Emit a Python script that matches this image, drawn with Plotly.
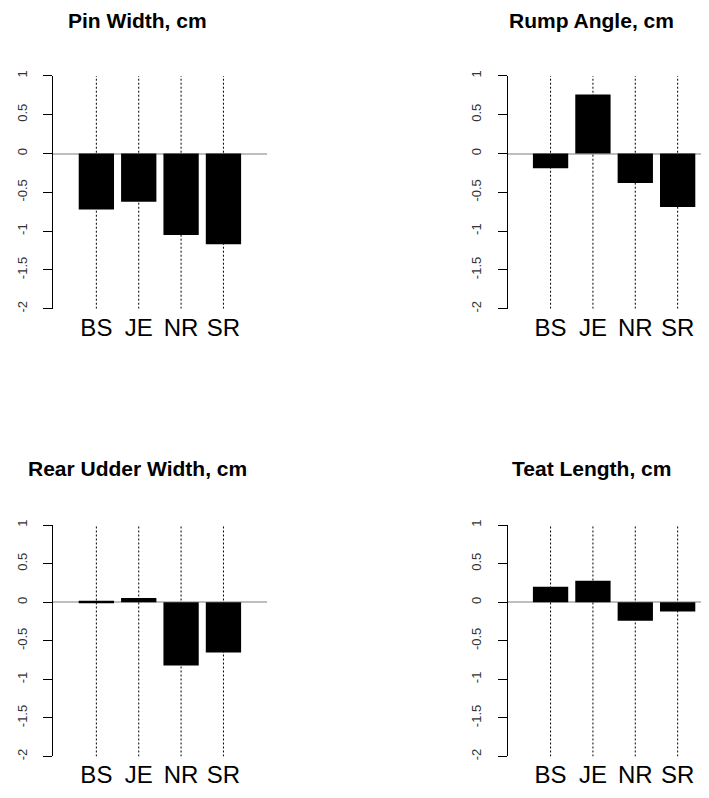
import plotly.graph_objects as go

# ---- data ----
categories = ["BS", "JE", "NR", "SR"]
titles = ["Pin Width, cm", "Rump Angle, cm", "Rear Udder Width, cm", "Teat Length, cm"]
pin_width = [-0.72, -0.62, -1.05, -1.17]
rump_angle = [-0.19, 0.76, -0.38, -0.69]
rear_udder_width = [0.02, 0.055, -0.82, -0.65]
teat_length = [0.20, 0.28, -0.24, -0.12]
series = [pin_width, rump_angle, rear_udder_width, teat_length]
y_tick_vals = [-2, -1.5, -1, -0.5, 0, 0.5, 1]
y_tick_text = ["-2", "-1.5", "-1", "-0.5", "0", "0.5", "1"]

# R barplot positions (width 1, space 0.2)
bar_pos = [0.7 + 1.2 * i for i in range(len(categories))]

# page body has an 8px default margin; figure sized to fill the rest of the window
OFF = 8
W, H = 709 - OFF, 798 - OFF
FONT = "Liberation Sans, Arial, sans-serif"
px_per_unit = 35.3
x_left_val = -0.52

# panel pixel geometry in window coordinates (layout only)
panels = [
    dict(axis_px=53.3, right_px=266.7, top_px=70.7, bot_px=306.5, title_x=137.5, title_y=15),
    dict(axis_px=507.5, right_px=709.0, top_px=70.7, bot_px=306.5, title_x=591.5, title_y=15),
    dict(axis_px=53.3, right_px=266.7, top_px=525.7, bot_px=760.0, title_x=137.5, title_y=468),
    dict(axis_px=507.5, right_px=709.0, top_px=525.7, bot_px=760.0, title_x=591.5, title_y=468),
]

fig = go.Figure()
layout = dict(
    width=W, height=H, autosize=False,
    margin=dict(l=0, r=0, t=0, b=0),
    paper_bgcolor="white", plot_bgcolor="white",
    showlegend=False,
    font=dict(family=FONT, color="black"),
    annotations=[],
)

for i, (vals, p) in enumerate(zip(series, panels)):
    n = "" if i == 0 else str(i + 1)
    xa, ya = "x" + n, "y" + n
    # dotted guide lines from ymin to ymax at each bar
    lx, ly = [], []
    for b in bar_pos:
        lx += [b, b, None]
        ly += [min(y_tick_vals), max(y_tick_vals), None]
    fig.add_trace(go.Scatter(x=lx, y=ly, mode="lines",
                             line=dict(color="black", width=1, dash="2px,2px"),
                             xaxis=xa, yaxis=ya, hoverinfo="skip"))
    fig.add_trace(go.Bar(x=bar_pos, y=vals, width=1.0,
                         marker=dict(color="black", line=dict(width=0)),
                         xaxis=xa, yaxis=ya))
    ax = p["axis_px"] - OFF
    rx = min(p["right_px"] - OFF, W)
    x_right_val = x_left_val + (rx - ax) / px_per_unit
    layout["xaxis" + n] = dict(
        domain=[ax / W, rx / W],
        range=[x_left_val, x_right_val],
        anchor=ya, showgrid=False, zeroline=False, showline=False,
        tickmode="array", tickvals=bar_pos, ticktext=categories,
        ticks="", tickfont=dict(family=FONT, size=24, color="black"),
        ticklabelstandoff=2, fixedrange=True,
    )
    layout["yaxis" + n] = dict(
        domain=[1 - (p["bot_px"] - OFF) / H, 1 - (p["top_px"] - OFF) / H],
        range=[min(y_tick_vals), max(y_tick_vals)],
        anchor=xa, showgrid=False,
        zeroline=True, zerolinecolor="#bebebe", zerolinewidth=2,
        showline=True, linecolor="black", linewidth=1,
        ticks="outside", ticklen=9, tickcolor="black", tickwidth=1,
        tickmode="array", tickvals=y_tick_vals, ticktext=y_tick_text,
        tickangle=-90, tickfont=dict(family=FONT, size=13, color="#333333"),
        ticklabelstandoff=11, fixedrange=True,
    )
    layout["annotations"].append(dict(
        text="<b>" + titles[i] + "</b>", xref="paper", yref="paper",
        x=(p["title_x"] - OFF) / W, y=1 - (p["title_y"] - OFF) / H,
        xanchor="center", yanchor="middle", showarrow=False,
        font=dict(family=FONT, size=21, color="black"),
    ))

fig.update_layout(**layout)
fig.write_html("out.html")
